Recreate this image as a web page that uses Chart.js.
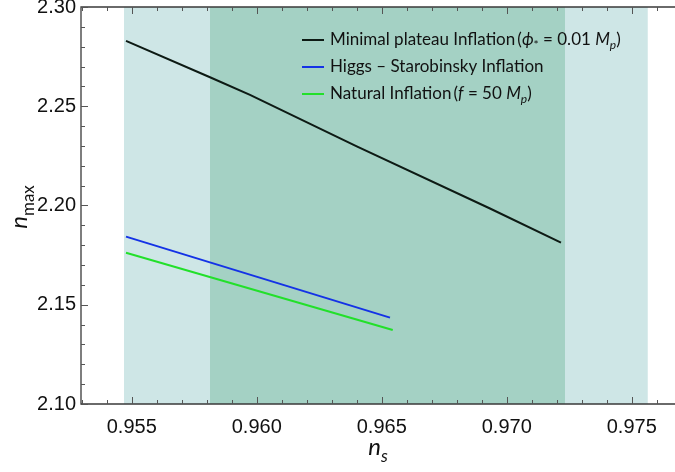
<!DOCTYPE html>
<html>
<head>
<meta charset="utf-8">
<script src="https://cdn.jsdelivr.net/npm/chart.js@4/dist/chart.umd.min.js"></script>
<style>
  html, body { margin: 0; padding: 0; background: #fff; }
  #wrap { width: 675px; height: 472px; }
</style>
</head>
<body>
<div id="wrap"><canvas id="nmax-chart" width="675" height="472"></canvas></div>
<script>
// n_max vs n_s for three inflation models, Planck bands behind

const nsTicks   = [0.955, 0.960, 0.965, 0.970, 0.975];
const nmaxTicks = [2.10, 2.15, 2.20, 2.25, 2.30];
const nsRange   = [0.95297, 0.97673];
const nmaxRange = [2.10, 2.30];

// shaded n_s bands (outer light, inner dark)
const bandOuter = [0.95469, 0.97564];
const bandInner = [0.95813, 0.97233];

const plateauNs = [0.95477, 0.95813, 0.95973, 0.96400, 0.96933, 0.97217];
const plateauN  = [2.2829, 2.2646, 2.2557, 2.2298, 2.1985, 2.1813];

const higgsNs = [0.95477, 0.96533];
const higgsN  = [2.1843, 2.1435];

const naturalNs = [0.95477, 0.96544];
const naturalN  = [2.1762, 2.1373];

const legendRows = [
    { color: '#0d1a14', parts: [['Minimal plateau Inflation\u2009(', 'n'], ['\u03D5', 'i'], ['*', 'sub'], [' = 0.01 ', 'n'], ['M', 'i'], ['p', 'subi'], [')', 'n']] },
    { color: '#1432e6', parts: [['Higgs \u2013 Starobinsky Inflation', 'n']] },
    { color: '#22e02a', parts: [['Natural Inflation\u2009(', 'n'], ['f', 'i'], [' = 50 ', 'n'], ['M', 'i'], ['p', 'subi'], [')', 'n']] }
];

function toPoints(xs, ys) { return xs.map((x, i) => ({ x: x, y: ys[i] })); }

const LEG_FONT = 'Lato, "Open Sans", sans-serif';

function drawParts(ctx, parts, x, y, size, family) {
    parts.forEach(([t, st]) => {
        let f = size, dy = 0, italic = false;
        if (st === 'i') italic = true;
        if (st === 'sub' || st === 'subi') { f = Math.round(size * 0.7); dy = size * 0.28; italic = st === 'subi'; }
        ctx.font = (italic ? 'italic ' : '') + f + 'px ' + family;
        ctx.fillText(t, x, y + dy);
        x += ctx.measureText(t).width;
    });
    return x;
}

const decorPlugin = {
    id: 'decor',
    beforeDatasetsDraw(chart) {
        const { ctx, chartArea: a, scales: { x } } = chart;
        ctx.save();
        ctx.fillStyle = 'rgb(206,230,230)';
        ctx.fillRect(x.getPixelForValue(bandOuter[0]), a.top, x.getPixelForValue(bandOuter[1]) - x.getPixelForValue(bandOuter[0]), a.bottom - a.top);
        ctx.fillStyle = 'rgb(164,209,196)';
        ctx.fillRect(x.getPixelForValue(bandInner[0]), a.top, x.getPixelForValue(bandInner[1]) - x.getPixelForValue(bandInner[0]), a.bottom - a.top);
        ctx.restore();
    },
    afterDraw(chart) {
        const { ctx, chartArea: a, scales: { x, y } } = chart;
        ctx.save();
        // frame
        ctx.strokeStyle = '#3a3a3a';
        ctx.lineWidth = 1.3;
        ctx.beginPath();
        ctx.moveTo(a.right + 2, a.top); ctx.lineTo(a.left, a.top);
        ctx.lineTo(a.left, a.bottom); ctx.lineTo(a.right + 2, a.bottom);
        ctx.stroke();
        // inward ticks
        ctx.lineWidth = 1;
        ctx.strokeStyle = '#555';
        ctx.beginPath();
        for (let k = 0; k <= 30; k++) {
            const v = 0.950 + k * 0.001;
            if (v < nsRange[0] || v > nsRange[1]) continue;
            const px = Math.round(x.getPixelForValue(v)) + 0.5;
            const len = (k % 5 === 0) ? 7 : 4;
            ctx.moveTo(px, a.bottom); ctx.lineTo(px, a.bottom - len);
            ctx.moveTo(px, a.top); ctx.lineTo(px, a.top + len);
        }
        for (let k = 0; k <= 20; k++) {
            const v = 2.10 + k * 0.01;
            const py = Math.round(y.getPixelForValue(v)) + 0.5;
            const len = (k % 5 === 0) ? 7 : 4;
            ctx.moveTo(a.left, py); ctx.lineTo(a.left + len, py);
        }
        ctx.stroke();

        // legend
        ctx.textBaseline = 'middle';
        legendRows.forEach((row, i) => {
            const ly = 40 + i * 27;
            ctx.strokeStyle = row.color;
            ctx.lineWidth = 2;
            ctx.beginPath(); ctx.moveTo(302, ly); ctx.lineTo(324, ly); ctx.stroke();
            ctx.fillStyle = '#111';
            drawParts(ctx, row.parts, 330, ly, 17, LEG_FONT);
        });

        // axis titles
        ctx.fillStyle = '#111';
        ctx.textBaseline = 'alphabetic';
        const tf = 'Lato, "DejaVu Sans", sans-serif';
        ctx.font = 'italic 24px ' + tf;
        const wn = ctx.measureText('n').width;
        ctx.font = 'italic 17px ' + tf;
        const ws = ctx.measureText('s').width;
        drawParts(ctx, [['n', 'i'], ['s', 'subi']], 378 - (wn + ws) / 2, 455, 24, tf);

        ctx.translate(27, 207);
        ctx.rotate(-Math.PI / 2);
        ctx.font = 'italic 24px ' + tf;
        const wn2 = ctx.measureText('n').width;
        ctx.font = '17px ' + tf;
        const wm = ctx.measureText('max').width;
        drawParts(ctx, [['n', 'i'], ['max', 'sub']], -(wn2 + wm) / 2, 0, 24, tf);
        ctx.restore();
    }
};

const lineDs = (label, xs, ys, color) => ({
    label: label,
    data: toPoints(xs, ys),
    showLine: true,
    borderColor: color,
    backgroundColor: color,
    borderWidth: 2,
    pointRadius: 0,
    tension: 0
});

new Chart(document.getElementById('nmax-chart').getContext('2d'), {
    type: 'scatter',
    data: {
        datasets: [
            lineDs('Minimal plateau Inflation', plateauNs, plateauN, '#0d1a14'),
            lineDs('Higgs - Starobinsky Inflation', higgsNs, higgsN, '#1432e6'),
            lineDs('Natural Inflation', naturalNs, naturalN, '#22e02a')
        ]
    },
    options: {
        responsive: false,
        animation: false,
        layout: { padding: { top: 7, right: 0, left: 0, bottom: 0 } },
        plugins: { legend: { display: false }, tooltip: { enabled: false } },
        scales: {
            x: {
                type: 'linear',
                min: nsRange[0], max: nsRange[1],
                grid: { display: false, drawTicks: false },
                border: { display: false },
                afterBuildTicks(s) { s.ticks = nsTicks.map(v => ({ value: v })); },
                afterFit(s) { s.height = 68; s.paddingLeft = 0; s.paddingRight = 0; },
                ticks: {
                    color: '#111', padding: 11, maxRotation: 0,
                    font: { family: '"Liberation Sans", Arial, sans-serif', size: 20 },
                    callback: v => v.toFixed(3)
                }
            },
            y: {
                min: nmaxRange[0], max: nmaxRange[1],
                grid: { display: false, drawTicks: false },
                border: { display: false },
                afterBuildTicks(s) { s.ticks = nmaxTicks.map(v => ({ value: v })); },
                afterFit(s) { s.width = 81; s.paddingTop = 0; s.paddingBottom = 0; },
                ticks: {
                    color: '#111', padding: 5,
                    font: { family: '"Liberation Sans", Arial, sans-serif', size: 20 },
                    callback: v => v.toFixed(2)
                }
            }
        }
    },
    plugins: [decorPlugin]
});
</script>
</body>
</html>
